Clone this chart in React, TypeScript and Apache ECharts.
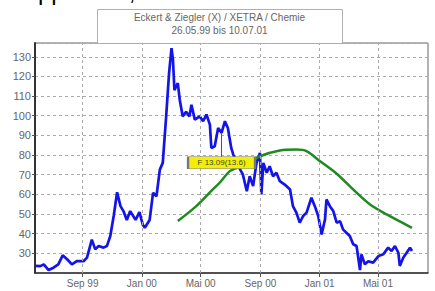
import React, { useEffect, useRef } from "react";
import * as echarts from "echarts";

// ---- data ----
const priceDates = [
  "1999-05-26", "1999-06-06", "1999-06-13", "1999-06-23", "1999-07-03", "1999-07-13", "1999-07-22",
  "1999-07-31", "1999-08-10", "1999-08-20", "1999-09-03", "1999-09-10", "1999-09-20", "1999-09-27",
  "1999-10-04", "1999-10-14", "1999-10-21", "1999-10-28", "1999-11-04", "1999-11-11", "1999-11-18",
  "1999-11-24", "1999-12-01", "1999-12-08", "1999-12-19", "1999-12-27", "2000-01-03", "2000-01-07",
  "2000-01-17", "2000-01-24", "2000-01-31", "2000-02-07", "2000-02-13", "2000-02-20", "2000-02-26",
  "2000-03-02", "2000-03-05", "2000-03-08", "2000-03-15", "2000-03-19", "2000-03-25", "2000-04-01",
  "2000-04-08", "2000-04-12", "2000-04-19", "2000-04-29", "2000-05-06", "2000-05-13", "2000-05-20",
  "2000-05-23", "2000-05-30", "2000-06-06", "2000-06-13", "2000-06-20", "2000-06-26", "2000-07-03",
  "2000-07-07", "2000-07-10", "2000-07-14", "2000-07-27", "2000-08-04", "2000-08-10", "2000-08-17",
  "2000-08-24", "2000-08-31", "2000-09-03", "2000-09-07", "2000-09-14", "2000-09-20", "2000-09-27",
  "2000-10-04", "2000-10-11", "2000-10-21", "2000-11-01", "2000-11-07", "2000-11-14", "2000-11-21",
  "2000-11-28", "2000-12-05", "2000-12-15", "2000-12-22", "2000-12-29", "2001-01-05", "2001-01-12",
  "2001-01-15", "2001-01-22", "2001-01-29", "2001-02-05", "2001-02-12", "2001-02-18", "2001-02-25",
  "2001-03-04", "2001-03-11", "2001-03-18", "2001-03-25", "2001-03-28", "2001-04-04", "2001-04-11",
  "2001-04-21", "2001-05-02", "2001-05-12", "2001-05-22", "2001-05-29", "2001-06-05", "2001-06-12",
  "2001-06-15", "2001-06-22", "2001-06-29", "2001-07-06", "2001-07-10",
];
const prices = [
  23.6, 23.5, 24.4, 21.5, 22.7, 24.4, 29, 27, 24.4, 26, 26, 27.8, 37, 32, 33.7, 32.9, 33.7, 38.8, 49,
  61.1, 54, 51.5, 47, 51.5, 47, 51, 44.5, 43, 47, 60.8, 59, 72.6, 76, 99.7, 121.7, 134.4, 128.5, 113,
  116.6, 108, 99.7, 102, 99.7, 105.6, 98, 99.7, 97.2, 100.6, 95.5, 83.6, 84.5, 93.8, 91.3, 97.2,
  93.8, 83.6, 80.3, 78.6, 76, 70, 61.6, 69.2, 64.2, 76, 81.1, 60, 76, 71, 74.3, 69.2, 71, 66.7, 65,
  62.5, 54, 50.7, 45.6, 49, 50.7, 58.3, 54, 49, 39.6, 47.3, 57.4, 54, 51.5, 45.6, 46.4, 42.2, 40.5,
  38.8, 34.6, 33.7, 21.5, 29.5, 24.4, 26, 25.3, 28.6, 29.5, 32.9, 31.2, 33.7, 30.3, 23.6, 27.8, 30.3,
  32.9, 31.2,
];
const maDates = [
  "2000-03-15", "2000-04-22", "2000-05-26", "2000-06-09", "2000-06-30", "2000-07-14", "2000-08-31",
  "2000-10-11", "2000-11-14", "2000-12-05", "2001-01-01", "2001-02-05", "2001-03-11", "2001-04-14",
  "2001-05-19", "2001-07-10",
];
const maValues = [46.4, 54, 62.5, 65.9, 71.8, 73.5, 79.4, 82.3, 82.8, 82, 77, 70.5, 62.5, 55, 49.8, 43];

const tickDates = ["1999-09-01", "2000-01-01", "2000-05-01", "2000-09-01", "2001-01-01", "2001-05-01"];
const tickLabels = ["Sep 99", "Jan 00", "Mai 00", "Sep 00", "Jan 01", "Mai 01"];

const axisStart = "1999-05-26";
const axisEnd = "2001-08-12";

const titleLine1 = "Eckert & Ziegler (X) / XETRA / Chemie";
const titleLine2 = "26.05.99 bis 10.07.01";
const noteDate = "2000-06-13";
const notePrice = 91.3;
const noteBoxValue = 76.1;
const noteText = "F 13.09(13.6)";
const headingText = "Stopp  …  0,5";

const ts = (s: string) => {
  const [y, m, d] = s.split("-").map(Number);
  return Date.UTC(y, m - 1, d);
};

export default function App() {
  const ref = useRef<HTMLDivElement>(null);
  useEffect(() => {
    document.body.style.margin = "0";
    if (!ref.current) return;
    const chart = echarts.init(ref.current, undefined, { renderer: "svg" });
    const tickTs = tickDates.map(ts);
    const labelMap: Record<string, string> = {};
    tickTs.forEach((t, i) => (labelMap[String(t)] = tickLabels[i]));
    const font = "Liberation Sans, Arial, sans-serif";

    chart.setOption({
      animation: false,
      backgroundColor: "#fff",
      textStyle: { fontFamily: font },
      grid: {
        left: 35,
        right: 7,
        top: 43,
        bottom: 18,
        show: true,
        borderColor: "#666",
        borderWidth: 1,
        backgroundColor: "#fff",
      },
      graphic: [
        {
          type: "text",
          left: 2,
          top: -21,
          style: { text: headingText, font: "24px " + font, fill: "#000" },
          silent: true,
        },
        {
          type: "rect",
          left: 97,
          top: 9,
          shape: { width: 245, height: 34 },
          style: { fill: "#fff", stroke: "#b0b0b0", lineWidth: 1 },
          silent: true,
        },
        {
          type: "text",
          x: 219.5,
          y: 17,
          style: {
            text: titleLine1,
            font: "10px " + font,
            fill: "#666",
            align: "center",
            verticalAlign: "middle",
          },
        },
        {
          type: "text",
          x: 219.5,
          y: 30,
          style: {
            text: titleLine2,
            font: "10px " + font,
            fill: "#666",
            align: "center",
            verticalAlign: "middle",
          },
        },
      ],
      xAxis: {
        type: "value",
        min: ts(axisStart),
        max: ts(axisEnd),
        axisLine: { show: true, onZero: false, lineStyle: { color: "#333", width: 1.5 } },
        axisTick: {
          show: true,
          customValues: tickTs,
          length: 4,
          lineStyle: { color: "#555" },
        },
        axisLabel: {
          customValues: tickTs,
          formatter: (v: number) => labelMap[String(v)] ?? "",
          color: "#666",
          fontSize: 10,
          margin: 5,
          hideOverlap: false,
        },
        splitLine: { show: false },
      },
      yAxis: {
        type: "value",
        min: 20,
        max: 137,
        interval: 10,
        axisLine: { show: true, lineStyle: { color: "#333", width: 2 } },
        axisTick: { show: true, length: 3, lineStyle: { color: "#555" } },
        axisLabel: {
          color: "#666",
          fontSize: 11,
          margin: 4,
          showMinLabel: false,
          showMaxLabel: false,
        },
        splitLine: { show: true, lineStyle: { color: "#aaa", type: [3, 3], width: 1 } },
      },
      series: [
        {
          type: "line",
          data: [],
          silent: true,
          markLine: {
            silent: true,
            symbol: ["none", "none"],
            label: { show: false },
            lineStyle: { color: "#aaa", type: [3, 3], width: 1 },
            data: tickTs.map((t) => ({ xAxis: t })),
          },
        },
        {
          type: "line",
          name: "Kurs",
          data: priceDates.map((d, i) => [ts(d), prices[i]]),
          showSymbol: false,
          lineStyle: { color: "#1414e8", width: 2.7 },
          itemStyle: { color: "#1414e8" },
          z: 3,
        },
        {
          type: "line",
          name: "GD 200",
          data: maDates.map((d, i) => [ts(d), maValues[i]]),
          showSymbol: false,
          smooth: 0.3,
          lineStyle: { color: "#1f8a1f", width: 2.5 },
          itemStyle: { color: "#1f8a1f" },
          z: 4,
          markLine: {
            silent: true,
            symbol: ["none", "none"],
            label: { show: false },
            lineStyle: { color: "#555", type: "solid", width: 1 },
            data: [
              [
                { coord: [ts(noteDate), notePrice] },
                { coord: [ts(noteDate), noteBoxValue] },
              ],
            ],
          },
          markPoint: {
            silent: true,
            symbol: "rect",
            symbolSize: [67, 12],
            itemStyle: { color: "#f2f000", borderColor: "#777", borderWidth: 1 },
            label: {
              show: true,
              position: "inside",
              formatter: noteText,
              color: "#444",
              fontSize: 8,
            },
            data: [{ coord: [ts(noteDate), noteBoxValue] }],
          },
        },
      ],
    });
    return () => chart.dispose();
  }, []);
  return <div ref={ref} style={{ width: 435, height: 291 }} />;
}
